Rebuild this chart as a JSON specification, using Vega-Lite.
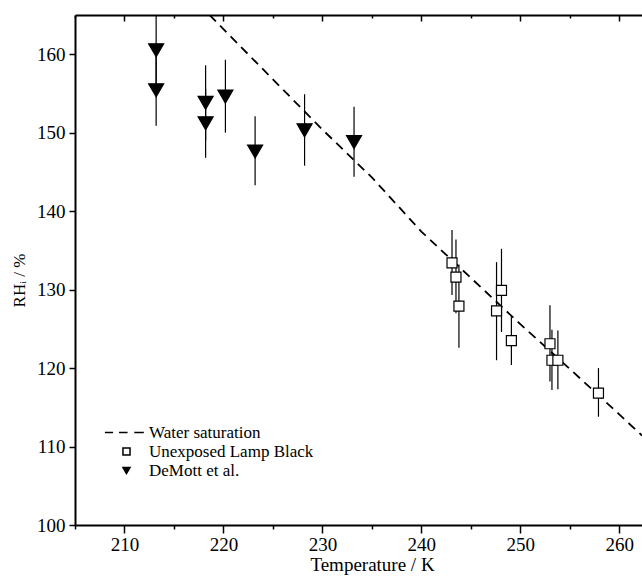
{
  "$schema": "https://vega.github.io/schema/vega-lite/v6.json",
  "width": 567,
  "height": 510,
  "autosize": {"type": "none"},
  "padding": {"left": 75, "top": 15, "right": 0, "bottom": 51},
  "background": "white",
  "config": {
    "view": {"stroke": null},
    "font": "Liberation Serif",
    "axis": {"labelFont": "Liberation Serif", "titleFont": "Liberation Serif", "labelColor": "black", "titleColor": "black", "domainColor": "black", "tickColor": "black", "titleFontWeight": "normal", "grid": false},
    "legend": {"labelFont": "Liberation Serif", "labelColor": "black"}
  },
  "datasets": {
    "sat": [
      {"T": 218.6, "RH": 165.0},
      {"T": 220, "RH": 163.2},
      {"T": 225, "RH": 156.8},
      {"T": 230, "RH": 150.4},
      {"T": 235, "RH": 144.3},
      {"T": 240, "RH": 137.4},
      {"T": 245, "RH": 131.5},
      {"T": 250, "RH": 125.6},
      {"T": 255, "RH": 119.9},
      {"T": 260, "RH": 114.1},
      {"T": 262.3, "RH": 111.4}
    ],
    "obs": [
      {"series": "DeMott et al.", "T": 213.2, "RH": 160.5, "lo": 155.9, "hi": 165.1},
      {"series": "DeMott et al.", "T": 213.2, "RH": 155.4, "lo": 150.9, "hi": 159.9},
      {"series": "DeMott et al.", "T": 218.2, "RH": 153.8, "lo": 149.0, "hi": 158.6},
      {"series": "DeMott et al.", "T": 218.2, "RH": 151.2, "lo": 146.8, "hi": 155.6},
      {"series": "DeMott et al.", "T": 220.2, "RH": 154.6, "lo": 150.0, "hi": 159.3},
      {"series": "DeMott et al.", "T": 223.2, "RH": 147.6, "lo": 143.3, "hi": 152.1},
      {"series": "DeMott et al.", "T": 228.2, "RH": 150.3, "lo": 145.8, "hi": 154.9},
      {"series": "DeMott et al.", "T": 233.2, "RH": 148.8, "lo": 144.4, "hi": 153.3},
      {"series": "Unexposed Lamp Black", "T": 243.1, "RH": 133.4, "lo": 129.3, "hi": 137.6},
      {"series": "Unexposed Lamp Black", "T": 243.5, "RH": 131.6, "lo": 127.0, "hi": 136.4},
      {"series": "Unexposed Lamp Black", "T": 243.8, "RH": 127.9, "lo": 122.6, "hi": 133.2},
      {"series": "Unexposed Lamp Black", "T": 247.6, "RH": 127.3, "lo": 121.0, "hi": 133.5},
      {"series": "Unexposed Lamp Black", "T": 248.1, "RH": 129.9, "lo": 124.6, "hi": 135.2},
      {"series": "Unexposed Lamp Black", "T": 249.1, "RH": 123.5, "lo": 120.4, "hi": 126.6},
      {"series": "Unexposed Lamp Black", "T": 253.0, "RH": 123.1, "lo": 118.3, "hi": 128.0},
      {"series": "Unexposed Lamp Black", "T": 253.2, "RH": 121.0, "lo": 117.2, "hi": 124.9},
      {"series": "Unexposed Lamp Black", "T": 253.8, "RH": 121.0, "lo": 117.3, "hi": 124.8},
      {"series": "Unexposed Lamp Black", "T": 257.9, "RH": 116.8, "lo": 113.8, "hi": 120.0}
    ]
  },
  "resolve": {"axis": {"x": "independent"}},
  "layer": [
    {
      "data": {"name": "sat"},
      "mark": {"type": "line", "color": "black", "strokeWidth": 1.8, "strokeDash": [9, 6], "clip": true},
      "encoding": {
        "x": {"field": "T", "type": "quantitative", "scale": {"domain": [205, 262.3], "nice": false, "zero": false},
          "axis": {"orient": "top", "title": null, "labels": false, "values": [205, 210, 215, 220, 225, 230, 235, 240, 245, 250, 255, 260],
            "domainWidth": 2, "tickWidth": 1.5,
            "tickSize": {"condition": {"test": "datum.value % 10 === 0", "value": -6}, "value": -3}}},
        "y": {"field": "RH", "type": "quantitative", "scale": {"domain": [100, 165], "nice": false, "zero": false},
          "axis": {"title": "RHᵢ / %", "values": [100, 105, 110, 115, 120, 125, 130, 135, 140, 145, 150, 155, 160, 165],
            "labelExpr": "datum.value % 10 === 0 ? datum.label : ''", "labelOverlap": false,
            "labelFontSize": 19, "titleFontSize": 17, "domainWidth": 2, "tickWidth": 1.5,
            "tickSize": {"condition": {"test": "datum.value % 10 === 0", "value": 6}, "value": 3},
            "labelPadding": 4, "titlePadding": 8, "titleY": 265}}
      }
    },
    {
      "data": {"name": "obs"},
      "mark": {"type": "rule", "color": "black", "strokeWidth": 1.2, "clip": true},
      "encoding": {
        "x": {"field": "T", "type": "quantitative", "axis": null},
        "y": {"field": "lo", "type": "quantitative"},
        "y2": {"field": "hi"}
      }
    },
    {
      "data": {"name": "obs"},
      "mark": {"type": "point", "filled": true, "stroke": "black", "strokeWidth": 1.2, "opacity": 1},
      "encoding": {
        "x": {"field": "T", "type": "quantitative",
          "axis": {"orient": "bottom", "title": "Temperature / K", "values": [205, 210, 215, 220, 225, 230, 235, 240, 245, 250, 255, 260],
            "labelExpr": "datum.value % 10 === 0 ? datum.label : ''", "labelOverlap": false,
            "labelFontSize": 19, "titleFontSize": 19, "domainWidth": 2, "tickWidth": 1.5,
            "tickSize": {"condition": {"test": "datum.value % 10 === 0", "value": 8}, "value": 4},
            "labelPadding": 2, "titlePadding": 1, "titleX": 297}},
        "y": {"field": "RH", "type": "quantitative"},
        "shape": {"field": "series", "type": "nominal",
          "scale": {"domain": ["Water saturation", "Unexposed Lamp Black", "DeMott et al."], "range": ["M-6.1,0H-3.8M-2.1,0H0.3M2.2,0H4.9", "square", "triangle-down"]},
          "legend": {"title": null, "orient": "none", "legendX": 43, "legendY": 409, "symbolSize": 50,
            "labelFontSize": 17, "labelOffset": 14, "labelLimit": 0, "rowPadding": 1, "padding": 0,
            "encode": {"symbols": {"update": {"stroke": {"value": "black"}, "strokeWidth": {"value": 1.4}, "opacity": {"value": 1}}}}}},
        "fill": {"field": "series", "type": "nominal",
          "scale": {"domain": ["Water saturation", "Unexposed Lamp Black", "DeMott et al."], "range": ["transparent", "white", "black"]},
          "legend": {"title": null, "orient": "none", "legendX": 43, "legendY": 409, "symbolSize": 50,
            "labelFontSize": 17, "labelOffset": 14, "labelLimit": 0, "rowPadding": 1, "padding": 0,
            "encode": {"symbols": {"update": {"stroke": {"value": "black"}, "strokeWidth": {"value": 1.4}, "opacity": {"value": 1}}}}}},
        "size": {"field": "series", "type": "nominal",
          "scale": {"domain": ["Unexposed Lamp Black", "DeMott et al."], "range": [100, 225]}, "legend": null}
      }
    }
  ]
}
